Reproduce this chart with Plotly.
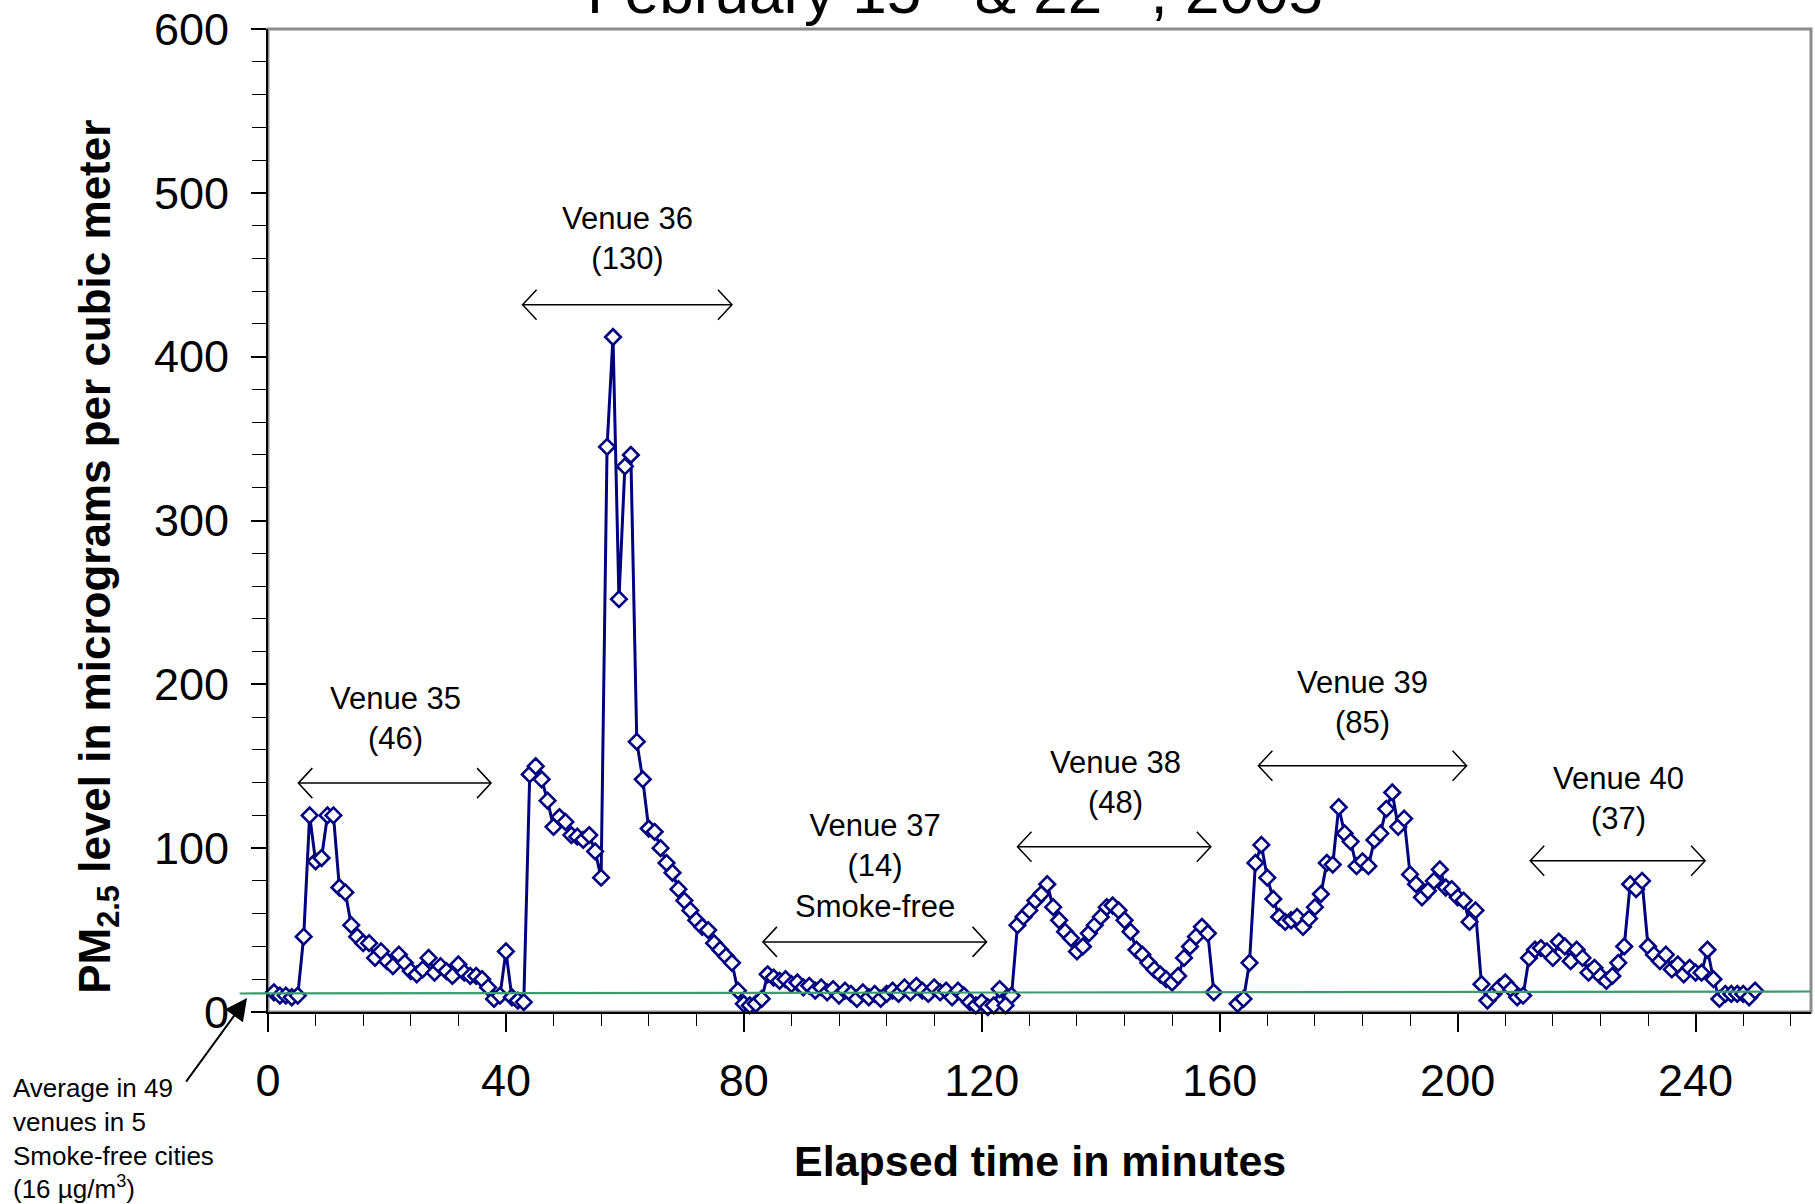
import plotly.graph_objects as go

# ---------------- data ----------------
minutes = list(range(1, 251))

venue35 = [12, 10, 10, 9, 10, 46, 120, 92, 94, 120, 120, 76, 73, 53, 46, 42, 42, 33, 37, 31,
           28, 35, 30, 25, 23, 26, 33, 24, 28, 25, 22, 29, 24, 22, 22, 20, 15, 8, 10, 37,
           9, 7, 6]                                   # minutes 1-43
venue36 = [145, 150, 142, 129, 113, 119, 116, 108, 107, 105, 108, 98, 82, 345, 412, 252, 333,
           340, 165, 142, 112, 110, 100, 91, 85, 75, 68, 62, 56, 52, 50, 42, 38, 34, 30, 13,
           5, 4, 5]                                   # minutes 44-82
venue37 = [8, 23, 21, 19, 20, 17, 18, 15, 16, 13, 15, 12, 14, 10, 13, 11, 8, 12, 9, 11,
           8, 11, 13, 11, 15, 12, 16, 13, 11, 15, 12, 13, 9, 13, 10, 6, 4, 6, 3, 4,
           14, 4, 10]                                 # minutes 83-125
venue38 = [53, 58, 62, 68, 72, 78, 64, 56, 49, 45, 37, 40, 48, 53, 58, 64, 65, 62, 56, 49,
           38, 35, 30, 26, 23, 20, 18, 22, 33, 40, 46, 52, 48, 12]   # minutes 126-159
gap = [None, None, None]                              # minutes 160-162
venue39 = [5, 8, 30, 91, 102, 82, 69, 58, 55, 56, 58, 52, 57, 64, 72, 91, 90, 125, 109, 104,
           89, 92, 89, 105, 109, 124, 134, 113, 118, 84, 78, 70, 74, 80, 87, 76, 75, 70, 68, 55,
           62, 17]                                    # minutes 163-204
venue40 = [7, 11, 15, 18, 14, 9, 10, 33, 38, 39, 37, 33, 43, 40, 31, 38, 33, 24, 27, 22,
           19, 22, 30, 40, 78, 75, 80, 40, 35, 31, 35, 26, 29, 23, 27, 24, 24, 38, 20, 8,
           11, 11, 11, 11, 9, 13]                     # minutes 205-250

pm25 = venue35 + venue36 + venue37 + venue38 + gap + venue39 + venue40

# average of smoke-free venues reference line (as drawn)
avg_line_y = [11.3, 12.5]

venue_labels = ["Venue 35<br>(46)", "Venue 36<br>(130)", "Venue 37<br>(14)<br>Smoke-free",
                "Venue 38<br>(48)", "Venue 39<br>(85)", "Venue 40<br>(37)"]
label_x = [21.4, 60.5, 102.1, 142.4, 184.0, 227.0]
label_y = [178.9, 472.4, 89.1, 140.0, 188.8, 130.1]
span_x0 = [5.1, 42.8, 83.2, 126.0, 166.5, 212.2]
span_x1 = [37.5, 78.0, 120.8, 158.5, 201.5, 241.6]
span_y = [139.7, 431.7, 42.8, 100.8, 150.3, 92.3]

x_ticks = [0, 40, 80, 120, 160, 200, 240]
y_ticks = [0, 100, 200, 300, 400, 500, 600]

FONT = "Liberation Sans, Arial, sans-serif"
NAVY = "#000080"

fig = go.Figure()
fig.add_trace(go.Scatter(
    x=minutes, y=pm25, mode="lines+markers", connectgaps=False,
    line=dict(color=NAVY, width=3),
    marker=dict(symbol="diamond", size=12, color="white", line=dict(color=NAVY, width=2.6)),
    showlegend=False, cliponaxis=False,
))

shapes = [
    dict(type="rect", xref="paper", yref="paper", x0=0, x1=1, y0=0, y1=1,
         line=dict(color="#8c8c8c", width=3), layer="below"),
    dict(type="line", xref="paper", yref="y", x0=-0.0184, x1=1, y0=avg_line_y[0], y1=avg_line_y[1],
         line=dict(color="#3c9a6e", width=2.2), layer="above"),
]
for x0, x1, y in zip(span_x0, span_x1, span_y):
    shapes.append(dict(type="line", xref="x", yref="y", x0=x0, x1=x1, y0=y, y1=y,
                       line=dict(color="black", width=1.5)))
    shapes.append(dict(type="path", xref="x", yref="y", xsizemode="pixel", ysizemode="pixel",
                       xanchor=x0, yanchor=y, path="M 14 15 L 0 0 L 14 -15",
                       line=dict(color="black", width=1.5)))
    shapes.append(dict(type="path", xref="x", yref="y", xsizemode="pixel", ysizemode="pixel",
                       xanchor=x1, yanchor=y, path="M -14 15 L 0 0 L -14 -15",
                       line=dict(color="black", width=1.5)))

annotations = []
for txt, x, y in zip(venue_labels, label_x, label_y):
    annotations.append(dict(text=txt, x=x, y=y, xref="x", yref="y", showarrow=False,
                            xanchor="center", yanchor="middle",
                            font=dict(family=FONT, size=31, color="black")))

# title (mostly cut off at top of page, as in the original)
annotations.append(dict(text="February 15<sup>th</sup> & 22<sup>nd</sup>, 2005",
                        xref="paper", yref="paper", x=0.445, y=1, yshift=42,
                        xanchor="center", yanchor="middle", showarrow=False,
                        font=dict(family=FONT, size=62, color="black")))
# axis titles
annotations.append(dict(text="PM<sub>2.5</sub> level in micrograms per cubic meter",
                        xref="paper", yref="paper", x=0, y=0.463, xshift=-170,
                        textangle=-90, showarrow=False, xanchor="center", yanchor="middle",
                        font=dict(family=FONT, size=44, color="black", weight="bold")))
annotations.append(dict(text="Elapsed time in minutes",
                        xref="paper", yref="paper", x=0.5, y=0, yshift=-149,
                        showarrow=False, xanchor="center", yanchor="middle",
                        font=dict(family=FONT, size=43, color="black", weight="bold")))
# reference note + arrow
annotations.append(dict(text="Average in 49<br>venues in 5<br>Smoke-free cities<br>(16 µg/m<sup>3</sup>)",
                        xref="paper", yref="paper", x=0, y=0, xshift=-257, yshift=-126,
                        showarrow=False, xanchor="left", yanchor="middle", align="left",
                        font=dict(family=FONT, size=26, color="black")))
annotations.append(dict(text="", xref="paper", yref="paper", x=-0.0136, y=0.0142,
                        ax=-62, ay=85, showarrow=True, arrowhead=2, arrowsize=2.2,
                        arrowwidth=2, arrowcolor="black"))

fig.update_layout(
    width=1815, height=1204, autosize=False,
    margin=dict(l=268, r=4, t=29, b=192, pad=0),
    paper_bgcolor="white", plot_bgcolor="white",
    shapes=shapes, annotations=annotations,
    font=dict(family=FONT, color="black"),
    xaxis=dict(range=[0, 259.4], tickvals=x_ticks, ticktext=[str(v) for v in x_ticks],
               ticks="outside", ticklen=18, tickwidth=1.5, tickcolor="black",
               minor=dict(dtick=8, tick0=0, ticks="outside", ticklen=12, tickwidth=1, tickcolor="black"),
               showline=True, linecolor="black", linewidth=2, mirror=False,
               showgrid=False, zeroline=False, ticklabelstandoff=10,
               tickfont=dict(family=FONT, size=45, color="black")),
    yaxis=dict(range=[0, 600], tickvals=y_ticks, ticktext=[str(v) for v in y_ticks],
               ticks="outside", ticklen=15, tickwidth=1.5, tickcolor="black",
               minor=dict(dtick=20, tick0=0, ticks="outside", ticklen=14, tickwidth=1, tickcolor="black"),
               showline=True, linecolor="black", linewidth=2, mirror=False,
               showgrid=False, zeroline=False, ticklabelstandoff=13,
               tickfont=dict(family=FONT, size=45, color="black")),
)

fig.write_html("out.html")
